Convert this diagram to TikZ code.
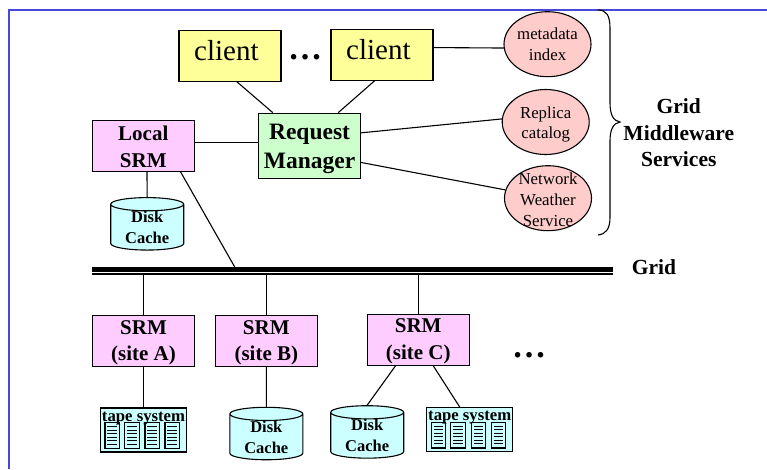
\documentclass[tikz,border=0pt]{standalone}
\usepackage{fontspec}
\setmainfont{Liberation Serif}
\usetikzlibrary{positioning, shapes.geometric}
\definecolor{framecol}{RGB}{72,72,216}
\definecolor{clientcol}{RGB}{255,255,153}
\definecolor{srmcol}{RGB}{255,204,255}
\definecolor{mgrcol}{RGB}{204,255,204}
\definecolor{cachecol}{RGB}{204,255,255}
\definecolor{svccol}{RGB}{255,204,204}
\newcommand{\fsz}[2]{\fontsize{#1}{#2}\selectfont}
\newcommand{\lift}[1]{\rule{0pt}{#1}}
\tikzset{
  clientbox/.style={rectangle, draw, fill=clientcol, minimum width=102pt, minimum height=51pt,
    inner sep=0pt, font=\fsz{29}{34}, text depth=10pt},
  srmbox/.style={rectangle, draw, fill=srmcol, minimum width=102pt, minimum height=51pt,
    inner sep=0pt, align=center, font=\bfseries\fsz{21}{26.5}},
  mgrbox/.style={rectangle, draw, fill=mgrcol, minimum width=102pt, minimum height=65pt,
    inner sep=0pt, align=center, font=\bfseries\fsz{23.5}{29}},
  cachebox/.style={cylinder, shape border rotate=90, aspect=0.3, draw, fill=cachecol,
    minimum width=73pt, minimum height=48pt, inner sep=0pt, align=center, font=\bfseries\fsz{16.5}{20.5}},
  tapebox/.style={rectangle, draw, fill=cachecol, minimum width=86pt, minimum height=44pt, inner sep=0pt},
  tapetext/.style={inner sep=0pt, font=\bfseries\fsz{16.7}{20}},
  svcbox/.style={ellipse, draw, fill=svccol, minimum width=87pt, minimum height=65pt, inner sep=0pt},
  svctext/.style={inner sep=0pt, align=center, font=\fsz{16.8}{20.6}},
  boldtext/.style={inner sep=0pt, align=center, font=\bfseries\fsz{21.5}{26.5}},
  dotstext/.style={inner sep=0pt, font=\bfseries\fsz{34}{34}},
}
\begin{document}
\begin{tikzpicture}[x=1pt, y=-1pt, line width=1.1pt, on grid]
  \useasboundingbox (0,0) rectangle (767,469);
  % frame
  \draw[framecol, line width=2pt] (8.5,469) -- (8.5,9.5) -- (767,9.5);

  % clients and manager
  \node[clientbox] (client1) at (230,55.8) {client\ \null};
  \node[clientbox] (client2) [right=152pt of client1, yshift=1pt] {client\ \null};
  \node[dotstext] (dots1) at (305,57) {…};
  \node[mgrbox] (rm) at (309.5,145.7) {\lift{21.5pt}Request\\Manager};
  \node[srmbox] (local) [left=166.2pt of rm] {\lift{17pt}Local\\SRM};
  \node[cachebox] (diskL) [below=81.7pt of local, xshift=3.9pt] {Disk\\Cache};

  % services
  \node[svcbox] (meta) at (547.5,44.2) {};
  \node[svcbox] (replica) at (545.7,122) {};
  \node[svcbox] (nws) at (548,198.2) {};
  \node[svctext] (metatext) at (meta) {metadata\\index};
  \node[svctext] (replicatext) at (replica) [yshift=-2.5pt] {Replica\\catalog};
  \node[svctext] (nwstext) at (nws) [yshift=-1.5pt] {Network\\Weather\\Service};
  \node[boldtext] (gms) at (678.8,133) {Grid\\Middleware\\Services};
  \draw (598,10) .. controls (606,10) and (610,15) .. (610,28) -- (610,103)
    .. controls (610,114) and (613,121) .. (620,122)
    .. controls (613,123) and (610,130) .. (610,141) -- (610,217)
    .. controls (610,229) and (606,234) .. (598,235);

  % grid bus
  \coordinate (busL) at (92,269.8);
  \coordinate (busR) at (613,269.8);
  \coordinate (thinL) at (92,274.2);
  \coordinate (thinR) at (613,274.2);
  \coordinate (tap) at (235.3,268);
  \draw[line width=5pt] (busL) -- (busR);
  \draw[line width=1.6pt] (thinL) -- (thinR);
  \node[boldtext] (gridtext) at (654,267) {Grid};

  % sites
  \node[srmbox] (srmA) at (143.5,341) {\lift{17pt}SRM\\(site A)};
  \node[srmbox] (srmB) [right=122.8pt of srmA] {\lift{17pt}SRM\\(site B)};
  \node[srmbox] (srmC) [right=151.9pt of srmB, yshift=1.3pt] {\lift{17pt}SRM\\(site C)};
  \node[dotstext] (dots2) at (529,355.5) {…};
  \node[tapebox] (tapeA) [below=89pt of srmA] {};
  \node[cachebox] (diskB) [below=96.1pt of srmB] {Disk\\Cache};
  \node[cachebox] (diskC) at (367.2,435.5) {Disk\\Cache};
  \node[tapebox] (tapeC) at (469.7,429.5) {};

  % tape drawers
  \foreach \tp in {tapeA, tapeC}
    \foreach \dx in {5,24.6,45,65} {
      \begin{scope}[shift={(\tp.north west)}, xshift=\dx pt]
        \draw[fill=cachecol] (0,15.3) rectangle (14.6,41);
        \foreach \dy in {19,22.5,26,29.5,33,36.5}
          \draw[line width=0.8pt] (2.5,\dy) -- (12,\dy);
      \end{scope}
    }
  \node[tapetext] (tapeAtext) at (tapeA.north) [yshift=-11pt] {tape system};
  \node[tapetext] (tapeCtext) at (tapeC.north) [yshift=-11pt] {tape system};

  % connectors
  \draw (client1.-75) -- (rm.138);
  \draw (client2.-106) -- (rm.49);
  \draw (client2.8) -- (meta.185);
  \draw (rm.14) -- (replica.176);
  \draw (rm.-18) -- (nws.169);
  \draw (local.4) -- (rm.176);
  \draw (local.-82) -- (diskL.north);
  \draw (local.-35) -- (tap);
  \draw (srmA.north) -- (srmA.north |- thinL);
  \draw (srmB.north) -- (srmB.north |- thinL);
  \draw (srmC.north) -- (srmC.north |- thinL);
  \draw (srmA.south) -- (tapeA.north);
  \draw (srmB.south) -- (diskB.north);
  \draw (srmC.-131) -- (diskC.north);
  \draw (srmC.-60) -- (tapeC.114);
\end{tikzpicture}
\end{document}
